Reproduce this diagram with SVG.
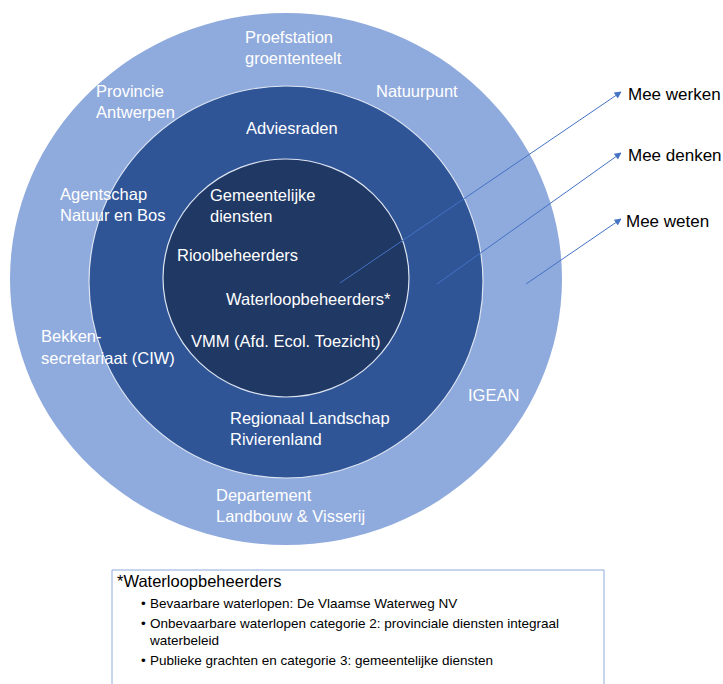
<svg xmlns="http://www.w3.org/2000/svg" width="723" height="684" viewBox="0 0 723 684">
  <style>
    .ring-outer { fill: #8FAADC; }
    .ring-mid { fill: #2F5597; stroke: #DCE4F2; stroke-width: 1.2; }
    .ring-inner { fill: #203864; stroke: #DCE4F2; stroke-width: 1.2; }
    .lbl { font-family: "Liberation Sans", Arial, sans-serif; font-size: 16.5px; fill: #FFFFFF; }
    .side { font-family: "Liberation Sans", Arial, sans-serif; font-size: 17px; fill: #000000; }
    .conn { stroke: #4472C4; stroke-width: 1; fill: none; marker-end: url(#head); }
    .note { font-family: "Liberation Sans", Arial, sans-serif; fill: #000000; }
  </style>
  <defs>
    <marker id="head" viewBox="0 0 10 10" refX="9" refY="5" markerWidth="7" markerHeight="7" markerUnits="userSpaceOnUse" orient="auto">
      <path d="M0,0 L10,5 L0,10 z" fill="#4472C4"/>
    </marker>
  </defs>

  <rect width="723" height="684" fill="#FFFFFF"/>

  <!-- concentric rings, largest first -->
  <g id="ring-weten"><ellipse class="ring-outer" cx="286" cy="279" rx="276" ry="266"/></g>
  <g id="ring-denken"><ellipse class="ring-mid" cx="286" cy="282" rx="197" ry="196"/></g>
  <g id="ring-werken"><ellipse class="ring-inner" cx="286" cy="278" rx="123" ry="119"/></g>

  <!-- partner names, drawn above all rings -->
  <g id="names-weten">
    <text class="lbl" x="245" y="43">Proefstation</text>
    <text class="lbl" x="245" y="64">groententeelt</text>
    <text class="lbl" x="96" y="97">Provincie</text>
    <text class="lbl" x="96" y="118">Antwerpen</text>
    <text class="lbl" x="376" y="97">Natuurpunt</text>
    <text class="lbl" x="60" y="200">Agentschap</text>
    <text class="lbl" x="60" y="221">Natuur en Bos</text>
    <text class="lbl" x="41" y="342">Bekken-</text>
    <text class="lbl" x="41" y="364">secretariaat (CIW)</text>
    <text class="lbl" x="468" y="401">IGEAN</text>
    <text class="lbl" x="216" y="501">Departement</text>
    <text class="lbl" x="216" y="522">Landbouw &amp; Visserij</text>
  </g>

  <g id="names-denken">
    <text class="lbl" x="246" y="134">Adviesraden</text>
    <text class="lbl" x="230" y="424">Regionaal Landschap</text>
    <text class="lbl" x="230" y="445">Rivierenland</text>
  </g>

  <g id="names-werken">
    <text class="lbl" x="210" y="201">Gemeentelijke</text>
    <text class="lbl" x="210" y="222">diensten</text>
    <text class="lbl" x="177" y="261">Rioolbeheerders</text>
    <text class="lbl" x="226" y="305">Waterloopbeheerders*</text>
    <text class="lbl" x="191" y="347">VMM (Afd. Ecol. Toezicht)</text>
  </g>

  <!-- pointers to the ring names -->
  <g id="connectors">
    <line class="conn" x1="340" y1="283" x2="621" y2="92"/>
    <line class="conn" x1="437" y1="284" x2="621" y2="153"/>
    <line class="conn" x1="526" y1="284" x2="621" y2="219"/>
  </g>

  <g id="label-werken"><text class="side" x="628" y="100">Mee werken</text></g>
  <g id="label-denken"><text class="side" x="628" y="161">Mee denken</text></g>
  <g id="label-weten"><text class="side" x="626" y="227">Mee weten</text></g>

  <!-- footnote box -->
  <g id="footnote">
    <path d="M112,684 V570 H604 V684" fill="none" stroke="#8FAADC" stroke-width="1"/>
    <text class="note" x="117" y="587" font-size="16.5">*Waterloopbeheerders</text>
    <g font-size="13.5">
      <text class="note" x="141" y="608">•</text>
      <text class="note" x="150" y="608">Bevaarbare waterlopen: De Vlaamse Waterweg NV</text>
      <text class="note" x="141" y="628">•</text>
      <text class="note" x="150" y="628">Onbevaarbare waterlopen categorie 2: provinciale diensten integraal</text>
      <text class="note" x="150" y="645">waterbeleid</text>
      <text class="note" x="141" y="665">•</text>
      <text class="note" x="150" y="665">Publieke grachten en categorie 3: gemeentelijke diensten</text>
    </g>
  </g>
</svg>
